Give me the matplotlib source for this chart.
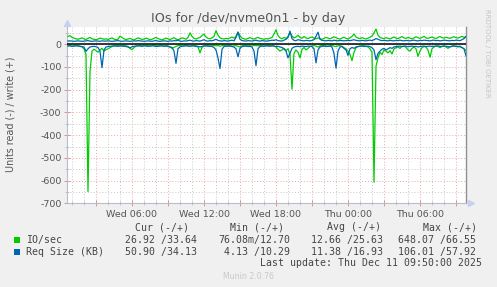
import numpy as np
import matplotlib
matplotlib.use("Agg")
import matplotlib.pyplot as plt
from matplotlib.patches import Rectangle
from matplotlib.ticker import MultipleLocator, FixedLocator

# ---------------- data (10-minute samples, Wed 00:40 .. Thu 09:50) ----------------
start_hour = 0 + 40 / 60.0      # Wed 00:40, hours since Wed 00:00
step_hours = 10 / 60.0

io_write = [
    35, 38, 30, 27, 24, 22, 25, 28, 24, 21, 26, 30, 24, 22, 20, 23, 27, 25, 22, 24,
    21, 25, 28, 23, 20, 22, 36, 30, 24, 21, 23, 26, 22, 19, 24, 28, 25, 21, 23, 27,
    24, 20, 22, 26, 30, 25, 22, 19, 23, 27, 24, 21, 25, 29, 23, 20, 24, 28, 26, 22,
    30, 50, 35, 26, 23, 27, 30, 38, 45, 32, 26, 24, 28, 35, 60, 40, 28, 25, 23, 26,
    24, 28, 32, 27, 35, 54, 38, 27, 24, 22, 26, 29, 25, 23, 27, 30, 26, 24, 22, 25,
    23, 27, 30, 45, 64, 38, 28, 24, 30, 26, 34, 50, 36, 28, 32, 40, 30, 26, 34, 28,
    25, 29, 32, 27, 24, 28, 25, 22, 26, 30, 27, 24, 28, 33, 29, 25, 23, 27, 31, 26,
    24, 28, 35, 45, 32, 27, 25, 29, 26, 23, 27, 31, 36, 50, 67, 40, 30, 27, 25, 29,
    26, 24, 28, 32, 27, 25, 29, 34, 28, 26, 30, 27, 24, 28, 33, 29, 26, 30, 35, 28,
    26, 29, 32, 28, 25, 30, 34, 29, 27, 31, 28, 26, 30, 33, 29, 27, 31, 35, 30, 34,
]

io_read = [
    6, 5, 8, 7, 5, 6, 9, 12, 20, 45, 648, 120, 30, 22, 28, 35, 25, 18, 30, 24,
    20, 15, 10, 7, 6, 5, 8, 6, 5, 7, 9, 18, 24, 15, 8, 6, 5, 7, 6, 5,
    6, 8, 5, 4, 6, 7, 5, 6, 8, 5, 7, 12, 18, 14, 9, 6, 5, 7, 6, 5,
    6, 8, 7, 5, 6, 12, 38, 14, 7, 6, 5, 8, 6, 5, 7, 6, 9, 6, 5, 7,
    6, 5, 8, 7, 6, 9, 12, 7, 6, 5, 7, 6, 8, 5, 6, 7, 5, 6, 8, 6,
    5, 7, 6, 8, 12, 22, 30, 25, 18, 28, 20, 45, 198, 40, 25, 35, 60, 22, 14, 25,
    18, 10, 7, 6, 8, 12, 7, 6, 5, 7, 9, 6, 5, 8, 10, 7, 6, 9, 15, 20,
    30, 45, 72, 35, 15, 10, 8, 7, 6, 9, 12, 20, 35, 607, 97, 60, 35, 45, 25, 30,
    38, 28, 43, 20, 15, 12, 18, 10, 8, 14, 25, 30, 18, 12, 20, 53, 30, 15, 10, 12,
    25, 57, 20, 12, 8, 10, 15, 9, 7, 12, 18, 10, 8, 6, 9, 12, 8, 15, 20, 27,
]

req_write = [
    14, 15, 14, 13, 14, 15, 14, 13, 14, 15, 16, 14, 13, 14, 15, 14, 13, 15, 14, 14,
    15, 14, 13, 14, 15, 16, 14, 13, 14, 15, 14, 13, 14, 15, 14, 16, 15, 14, 13, 14,
    15, 14, 13, 15, 16, 14, 13, 14, 15, 14, 13, 15, 14, 16, 15, 18, 14, 13, 15, 14,
    16, 18, 15, 14, 16, 15, 14, 17, 20, 15, 14, 16, 15, 18, 22, 17, 15, 14, 16, 15,
    14, 16, 18, 15, 30, 53, 22, 16, 15, 14, 16, 15, 14, 16, 18, 15, 14, 16, 15, 14,
    15, 16, 18, 17, 20, 16, 15, 14, 18, 22, 30, 58, 25, 17, 16, 20, 18, 16, 15, 17,
    16, 15, 17, 20, 35, 53, 22, 17, 16, 15, 17, 16, 15, 18, 16, 15, 17, 16, 15, 16,
    17, 16, 18, 20, 17, 16, 15, 17, 16, 15, 17, 18, 16, 20, 25, 22, 18, 16, 17, 16,
    15, 17, 16, 15, 17, 16, 18, 16, 15, 17, 16, 15, 17, 18, 16, 15, 17, 16, 18, 17,
    16, 15, 17, 18, 16, 17, 15, 16, 18, 17, 16, 15, 17, 16, 18, 17, 16, 20, 25, 34,
]

req_read = [
    8, 7, 9, 8, 7, 8, 9, 10, 12, 31, 20, 12, 10, 9, 11, 14, 30, 103, 25, 12,
    10, 9, 8, 7, 8, 9, 7, 8, 9, 10, 12, 16, 11, 9, 8, 7, 8, 9, 7, 8,
    9, 8, 7, 8, 10, 9, 8, 7, 9, 8, 10, 12, 14, 30, 84, 20, 11, 9, 8, 7,
    8, 9, 7, 8, 10, 9, 12, 9, 8, 7, 9, 8, 10, 14, 25, 60, 107, 22, 10, 8,
    9, 8, 10, 12, 20, 55, 18, 10, 9, 8, 10, 9, 12, 30, 94, 20, 10, 8, 9, 7,
    8, 9, 7, 8, 10, 9, 12, 14, 20, 30, 60, 40, 18, 12, 10, 9, 11, 8, 9, 10,
    8, 9, 10, 20, 82, 25, 12, 9, 8, 10, 9, 8, 12, 40, 105, 30, 12, 10, 18, 25,
    49, 20, 14, 18, 12, 10, 9, 8, 10, 9, 8, 10, 15, 25, 68, 40, 30, 22, 18, 25,
    20, 15, 18, 12, 10, 9, 8, 10, 9, 8, 11, 9, 8, 10, 9, 12, 10, 9, 8, 10,
    9, 8, 10, 9, 8, 7, 9, 10, 8, 9, 10, 12, 9, 8, 10, 9, 11, 14, 20, 51,
]

x_tick_hours = [6, 12, 18, 24, 30]
x_tick_labels = ["Wed 06:00", "Wed 12:00", "Wed 18:00", "Thu 00:00", "Thu 06:00"]
y_ticks = [0, -100, -200, -300, -400, -500, -600, -700]
y_tick_labels = ["0", "-100", "-200", "-300", "-400", "-500", "-600", "-700"]

legend_header = ["Cur (-/+)", "Min (-/+)", "Avg (-/+)", "Max (-/+)"]
legend_names = ["IO/sec", "Req Size (KB)"]
legend_io = ["26.92 /33.64", "76.08m/12.70", "12.66 /25.63", "648.07 /66.55"]
legend_req = ["50.90 /34.13", "4.13 /10.29", "11.38 /16.93", "106.01 /57.92"]

title = "IOs for /dev/nvme0n1 - by day"
ylabel = "Units read (-) / write (+)"
last_update = "Last update: Thu Dec 11 09:50:00 2025"
footer = "Munin 2.0.76"
side_text = "RRDTOOL / TOBI OETIKER"

GREEN = "#00CC00"
BLUE = "#0066B3"
BG = "#F0F0F0"

# ---------------- figure ----------------
W, H = 497, 287
fig = plt.figure(figsize=(W / 100, H / 100), dpi=100, facecolor=BG)


def fx(x):
    return x / W


def fy(y):
    return 1 - y / H


ax = fig.add_axes([fx(67), fy(203.3), fx(466) - fx(67), fy(27) - fy(203.3)])
ax.set_facecolor("white")

n = len(io_write)
t = start_hour + step_hours * np.arange(n)

ax.plot(t, io_write, color=GREEN, lw=0.9, zorder=3)
ax.plot(t, -np.asarray(io_read), color=GREEN, lw=0.9, zorder=3)
ax.plot(t, req_write, color=BLUE, lw=0.9, zorder=4)
ax.plot(t, -np.asarray(req_read), color=BLUE, lw=0.9, zorder=4)
ax.axhline(0, color="black", lw=1.1, zorder=5)

ax.set_xlim(start_hour - 5 / 60.0, start_hour + step_hours * (n - 1))
ax.set_ylim(-700, 76)

# grid
major_x = list(range(3, 34, 3))
ax.xaxis.set_major_locator(FixedLocator(major_x))
ax.set_xticklabels([x_tick_labels[x_tick_hours.index(h)] if h in x_tick_hours else "" for h in major_x])
ax.xaxis.set_minor_locator(MultipleLocator(1))
ax.yaxis.set_major_locator(FixedLocator(y_ticks))
ax.set_yticklabels(y_tick_labels)
ax.yaxis.set_minor_locator(FixedLocator([50, -50, -150, -250, -350, -450, -550, -650]))

ax.set_axisbelow(True)
ax.grid(which="major", color="#E8A8A8", lw=0.7, linestyle=(0, (1, 2)))
ax.grid(which="minor", color="#C8C8C8", lw=0.7, linestyle=(0, (1, 2)))

ax.tick_params(which="major", direction="inout", length=4, width=0.7, color="#E09090",
               labelsize=6.8, labelcolor="#555555", pad=2)
ax.tick_params(which="minor", direction="inout", length=3, width=0.6, color="#B8B8B8")
ax.tick_params(axis="x", which="major", pad=3)

for s in ("top",):
    ax.spines[s].set_visible(False)
ax.spines["left"].set_color("#B8BCCC")
ax.spines["bottom"].set_color("#B8BCCC")
ax.spines["left"].set_linewidth(0.8)
ax.spines["bottom"].set_linewidth(0.8)
ax.spines["right"].set_color("#909090")
ax.spines["right"].set_linewidth(1.0)

# axis arrows
ax.plot([0], [1.025], marker="^", color="#C8D0F0", markersize=4.5, transform=ax.transAxes, clip_on=False)
ax.plot([1.012], [0], marker=">", color="#C8D0F0", markersize=4.5, transform=ax.transAxes, clip_on=False)

# texts
fig.text(fx(248), fy(18.5), title, ha="center", va="center", fontsize=9.2, color="#555555")
fig.text(fx(11), fy(114), ylabel, ha="center", va="center", rotation=90, fontsize=6.9, color="#555555")
fig.text(fx(487.5), fy(53), side_text, ha="center", va="center", rotation=270, fontsize=5.0, color="#C4C4C4")

mono = dict(family="DejaVu Sans Mono", fontsize=7.1, color="#444444", va="center")
for txt, x in zip(legend_header, [135, 230, 327, 423]):
    fig.text(fx(x), fy(227.5), txt, ha="left", **mono)
fig.text(fx(26), fy(239.7), legend_names[0], ha="left", **mono)
fig.text(fx(26), fy(251.7), legend_names[1], ha="left", **mono)
ends = [197, 290, 383, 476]
for txt, x in zip(legend_io, ends):
    fig.text(fx(x), fy(239.7), txt, ha="right", **mono)
for txt, x in zip(legend_req, ends):
    fig.text(fx(x), fy(251.7), txt, ha="right", **mono)
fig.text(fx(482), fy(263.5), last_update, ha="right", **mono)

fig.patches.append(Rectangle((fx(14), fy(243)), fx(6), 6 / H, transform=fig.transFigure,
                             facecolor=GREEN, edgecolor="none"))
fig.patches.append(Rectangle((fx(14), fy(255)), fx(6), 6 / H, transform=fig.transFigure,
                             facecolor=BLUE, edgecolor="none"))

fig.text(fx(248), fy(276.5), footer, ha="center", va="center", fontsize=5.6, color="#C8C8C8")

fig.savefig("out.png", dpi=100, facecolor=BG)
